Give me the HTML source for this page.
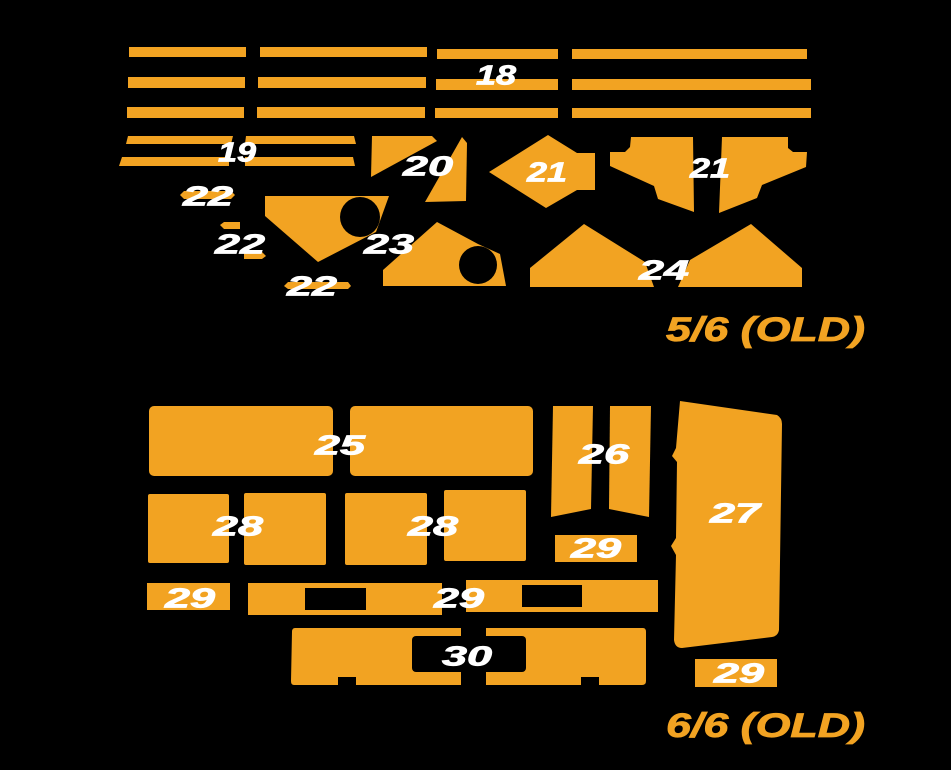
<!DOCTYPE html>
<html><head><meta charset="utf-8"><style>
html,body{margin:0;padding:0;background:#000;}
svg{display:block}
text{font-family:"Liberation Sans",sans-serif;font-weight:bold;font-style:italic;}
.l{fill:#fff;font-size:28px;stroke:#fff;stroke-width:0.8px;}
.t{fill:#f2a322;font-size:34px;stroke:#f2a322;stroke-width:0.8px;}
</style></head><body>
<svg width="951" height="770" viewBox="0 0 951 770" xmlns="http://www.w3.org/2000/svg">
<rect width="951" height="770" fill="#000"/>
<g fill="#f2a322">
<rect x="129" y="47" width="117" height="10"/><rect x="128" y="77" width="117" height="11"/><rect x="127" y="107" width="117" height="11"/>
<rect x="260" y="47" width="167" height="10"/><rect x="258" y="77" width="168" height="11"/><rect x="257" y="107" width="168" height="11"/>
<rect x="437" y="49" width="121" height="10"/><rect x="436" y="79" width="122" height="11"/><rect x="435" y="108" width="123" height="10"/>
<rect x="572" y="49" width="235" height="10"/><rect x="572" y="79" width="239" height="11"/><rect x="572" y="108" width="239" height="10"/>
<polygon points="128,136 233,136 231,144 126,144"/><polygon points="246,136 354,136 356,144 245,144"/>
<polygon points="122,157 229,157 229,166 119,166"/><polygon points="245,157 353,157 355,166 245,166"/>
<polygon points="372,136 432,136 437,141 371,177"/><polygon points="462,137 467,143 466,201 425,202"/>
<polygon points="489,172 548,135 577,153 595,153 595,190 577,190 546,208"/>
<polygon points="631,137 693,137 694,212 658,199 654,186 610,166 610,152 625,152 630,147"/>
<polygon points="722,137 788,137 788,148 793,152 807,152 806,167 762,185 757,198 719,213"/>
<polygon points="530,287 530,268 584,224 645,262 654,287"/>
<polygon points="678,287 690,260 751,224 802,268 802,287"/>
<polygon points="265,196 389,196 376,232 318,262 265,216"/>
<polygon points="383,286 383,270 437,222 478,244 500,254 506,286"/>
<polygon points="184,191 231,191 235,195 231,199 184,199 180,195"/>
<polygon points="224,222 240,222 240,229 224,229 220,225"/>
<polygon points="244,252 262,252 266,256 262,259 244,259"/>
<polygon points="288,282 348,282 351,286 348,289 288,289 284,286"/>
<rect x="149" y="406" width="184" height="70" rx="5"/><rect x="350" y="406" width="183" height="70" rx="5"/>
<polygon points="553,406 593,406 591,509 551,517"/><polygon points="610,406 651,406 649,517 609,509"/>
<path d="M680,401 L777,415 Q782,418 782,424 L779,630 Q778,636 772,637 L682,648 Q675,648 674,640 L676,555 L671,546 L676,538 L677,462 L672,456 L676,448 Z"/>
<rect x="148" y="494" width="81" height="69" rx="2"/><rect x="244" y="493" width="82" height="72" rx="2"/>
<rect x="345" y="493" width="82" height="72" rx="2"/><rect x="444" y="490" width="82" height="71" rx="2"/>
<rect x="555" y="535" width="82" height="27"/><rect x="147" y="583" width="83" height="27"/><rect x="695" y="659" width="82" height="28"/>
<path fill-rule="evenodd" d="M248,583 H442 V615 H248 Z M305,588 V610 H366 V588 Z"/>
<path fill-rule="evenodd" d="M466,580 H658 V612 H466 Z M522,585 V607 H582 V585 Z"/>
<path d="M295,628 L461,628 L461,685 L356,685 L356,677 L338,677 L338,685 L294,685 Q291,685 291,681 L292,632 Q292,628 295,628 Z"/>
<path d="M486,628 L643,628 Q646,628 646,632 L646,681 Q646,685 642,685 L599,685 L599,677 L581,677 L581,685 L486,685 Z"/>
</g>
<g fill="#000">
<circle cx="360" cy="217" r="20"/><circle cx="478" cy="265" r="19"/>
<rect x="412" y="636" width="114" height="36" rx="4"/>
</g>
<g class="l" text-anchor="middle" dominant-baseline="central" lengthAdjust="spacingAndGlyphs">
<text x="496" y="75" textLength="40" lengthAdjust="spacingAndGlyphs">18</text>
<text x="237" y="152" textLength="38" lengthAdjust="spacingAndGlyphs">19</text>
<text x="428" y="166" textLength="50" lengthAdjust="spacingAndGlyphs">20</text>
<text x="547" y="172" textLength="40" lengthAdjust="spacingAndGlyphs">21</text>
<text x="710" y="168" textLength="40" lengthAdjust="spacingAndGlyphs">21</text>
<text x="208" y="196" textLength="50" lengthAdjust="spacingAndGlyphs">22</text>
<text x="240" y="244" textLength="50" lengthAdjust="spacingAndGlyphs">22</text>
<text x="312" y="286" textLength="50" lengthAdjust="spacingAndGlyphs">22</text>
<text x="389" y="244" textLength="50" lengthAdjust="spacingAndGlyphs">23</text>
<text x="664" y="270" textLength="50" lengthAdjust="spacingAndGlyphs">24</text>
<text x="340" y="445" textLength="50" lengthAdjust="spacingAndGlyphs">25</text>
<text x="604" y="454" textLength="50" lengthAdjust="spacingAndGlyphs">26</text>
<text x="735" y="513" textLength="50" lengthAdjust="spacingAndGlyphs">27</text>
<text x="238" y="526" textLength="50" lengthAdjust="spacingAndGlyphs">28</text>
<text x="433" y="526" textLength="50" lengthAdjust="spacingAndGlyphs">28</text>
<text x="190" y="598" textLength="50" lengthAdjust="spacingAndGlyphs">29</text>
<text x="459" y="598" textLength="50" lengthAdjust="spacingAndGlyphs">29</text>
<text x="596" y="548" textLength="50" lengthAdjust="spacingAndGlyphs">29</text>
<text x="739" y="673" textLength="50" lengthAdjust="spacingAndGlyphs">29</text>
<text x="467" y="656" textLength="50" lengthAdjust="spacingAndGlyphs">30</text>
</g>
<g class="t">
<text x="666" y="341" textLength="199" lengthAdjust="spacingAndGlyphs">5/6 (OLD)</text>
<text x="666" y="737" textLength="199" lengthAdjust="spacingAndGlyphs">6/6 (OLD)</text>
</g>
</svg>
</body></html>
